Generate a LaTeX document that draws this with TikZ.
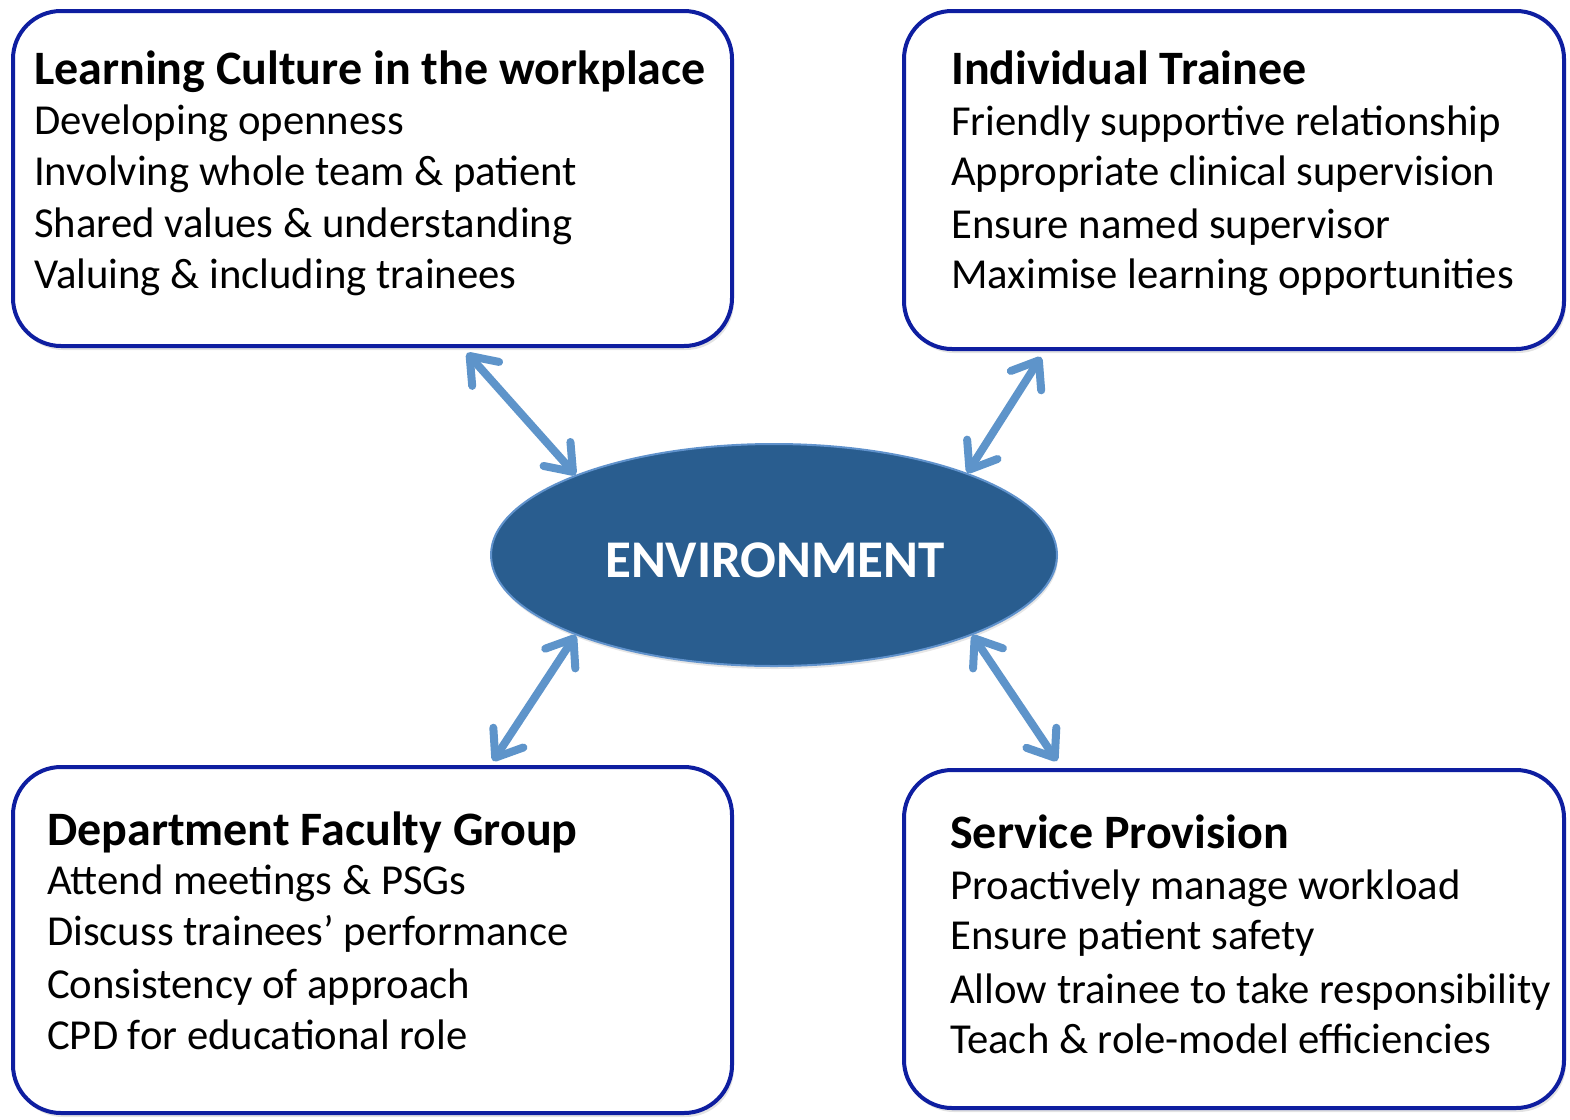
\documentclass[tikz,border=0pt]{standalone}
\usepackage{fontspec}
\setmainfont{Carlito}
\usetikzlibrary{arrows.meta,shadows,shapes.geometric}
\definecolor{boxline}{RGB}{14,30,160}
\definecolor{envfill}{RGB}{41,93,143}
\definecolor{envline}{RGB}{96,146,204}
\definecolor{arrowblue}{RGB}{94,148,202}
\begin{document}
\begin{tikzpicture}[x=1pt,y=-1pt,
  panel/.style={draw=boxline, line width=4pt, rounded corners=48pt, fill=white,
    inner sep=0pt, outer sep=0pt,
    drop shadow={opacity=0.22, shadow xshift=2pt, shadow yshift=-4pt}},
  heading/.style={anchor=base west, inner sep=0pt, font=\fontsize{48}{58}\selectfont\bfseries},
  item/.style={anchor=base west, inner sep=0pt, font=\fontsize{42.7}{52}\selectfont},
  hub/.style={ellipse, fill=envfill, draw=envline, line width=2pt, inner sep=0pt,
    drop shadow={opacity=0.2, shadow xshift=1pt, shadow yshift=-3pt}},
  link/.style={draw=arrowblue, line width=8pt, line cap=round,
    {Straight Barb[length=24pt, width=36pt, round]}-{Straight Barb[length=24pt, width=36pt, round]}}]
\useasboundingbox (0,0) rectangle (1570,1119);

% four panels
\node[panel, minimum width=719, minimum height=335] (learn) at (372.5,178.5) {};
\node[panel, minimum width=660, minimum height=338] (trainee) at (1234,180) {};
\node[panel, minimum width=719, minimum height=346] (faculty) at (372.5,940) {};
\node[panel, minimum width=660, minimum height=338] (service) at (1234,939) {};

% central hub
\node[hub, minimum width=566, minimum height=222] (env) at (774,555) {};
\node[inner sep=0pt, text=white, font=\fontsize{53}{62}\selectfont\bfseries] (envT) at (775,560) {ENVIRONMENT};

% panel texts
\node[heading] (learnH) at (34,84) {Learning Culture in the workplace};
\node[item] (learn1) at (34,134) {Developing openness};
\node[item] (learn2) at (34,185) {Involving whole team \& patient};
\node[item] (learn3) at (34,237) {Shared values \& understanding};
\node[item] (learn4) at (34,288) {Valuing \& including trainees};

\node[heading] (traineeH) at (951,84) {Individual Trainee};
\node[item] (trainee1) at (951,135) {Friendly supportive relationship};
\node[item] (trainee2) at (951,185) {Appropriate clinical supervision};
\node[item] (trainee3) at (951,238) {Ensure named supervisor};
\node[item] (trainee4) at (951,288) {Maximise learning opportunities};

\node[heading] (facultyH) at (47,845) {Department Faculty Group};
\node[item] (faculty1) at (47,894) {Attend meetings \& PSGs};
\node[item] (faculty2) at (47,945) {Discuss trainees’ performance};
\node[item] (faculty3) at (47,998) {Consistency of approach};
\node[item] (faculty4) at (47,1049) {CPD for educational role};

\node[heading] (serviceH) at (950,848) {Service Provision};
\node[item] (service1) at (950,899) {Proactively manage workload};
\node[item] (service2) at (950,949) {Ensure patient safety};
\node[item] (service3) at (950,1003) {Allow trainee to take responsibility};
\node[item] (service4) at (950,1053) {Teach \& role-model efficiencies};

% arrow ends just outside the panels
\coordinate (learnP) at (467,353);
\coordinate (traineeP) at (1041,357);
\coordinate (facultyP) at (493,761);
\coordinate (serviceP) at (1057,761);

% two-way connectors
\draw[link] (learnP) -- (env.158);
\draw[link] (traineeP) -- (env.23);
\draw[link] (facultyP) -- (env.202);
\draw[link] (serviceP) -- (env.338);
\end{tikzpicture}
\end{document}
